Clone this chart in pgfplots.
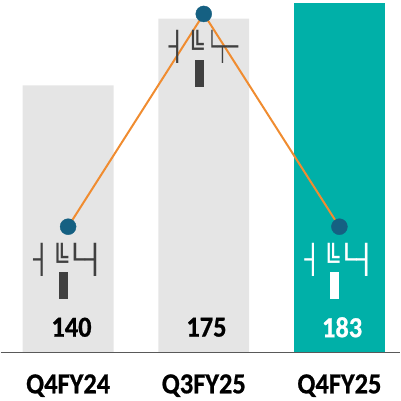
\documentclass[border=0pt]{standalone}
\usepackage{fontspec}
\usepackage{graphicx}
\usepackage{pgfplots}
\pgfplotsset{compat=1.18}
\setmainfont{Carlito}
\newfontfamily\boxfont{DejaVu Sans Mono}
\newfontfamily\labfont[FakeStretch=0.91,FakeBold=0.8]{Carlito Bold}
\definecolor{barGrey}{HTML}{E5E5E5}
\definecolor{barTeal}{HTML}{00B0A8}
\definecolor{lineOrange}{HTML}{F08C30}
\definecolor{dotBlue}{HTML}{156082}
\definecolor{inkDark}{HTML}{404040}
\definecolor{baseLine}{HTML}{595959}

% scrambled caption over each bar: x pos, y pos, colour, glyph string
\newcommand{\capt}[4]{%
  \node[anchor=west,inner sep=0,text=#3,font=\boxfont\fontsize{28}{28}\selectfont]
    at ([xshift=-35pt]axis cs:#1,#2) {#4};
  \node[anchor=north,inner sep=0,text=#3] at ([xshift=-4.5pt]axis cs:#1,#2-6.4) {\rule{9pt}{27pt}};
}
\newcommand{\lab}[4]{\node[font=\labfont\fontsize{29}{29}\selectfont,text=#3] at (axis cs:#1,#2) {#4};}

\begin{document}
\begin{tikzpicture}
\begin{axis}[
  scale only axis, width=400pt, height=401pt,
  xmin=-0.497, xmax=2.449, ymin=-25.13, ymax=184.8,
  axis lines=none, clip=false,
  ybar, bar width=91pt, bar shift=0pt,
]
\path (rel axis cs:0,0) rectangle (rel axis cs:1,1);
\addplot[fill=barGrey,draw=none] coordinates {(0,140) (1,175)};
\addplot[fill=barTeal,draw=none] coordinates {(2,183)};
\addplot[sharp plot,color=baseLine,line width=1.4pt,mark=none] coordinates {(-0.497,0) (2.449,0)};
\addplot[sharp plot,color=lineOrange,line width=2pt,mark=none] coordinates {(0,66) (1,177.5) (2,66)};
\addplot[only marks,mark=*,mark size=8pt,color=dotBlue] coordinates {(0,66) (1,177.5) (2,66)};

\capt{0}{48.7}{inkDark}{┤\kern1.1pt╚\kern-2.9pt\scalebox{1.18}[1]{└┤}}
\capt{1}{160}{inkDark}{┤\kern1.1pt╚\kern3.1pt\scalebox{.62}[1]{└┬─}}
\capt{2}{48.7}{white}{┤\kern1.1pt╚\kern-2.9pt\scalebox{1.18}[1]{└┤}}

\lab{0.025}{13.3}{black}{140}
\lab{1.02}{13.3}{black}{175}
\lab{2.02}{13.3}{white}{183}
\lab{0}{-17.3}{black}{Q4FY24}
\lab{1}{-17.3}{black}{Q3FY25}
\lab{2}{-17.3}{black}{Q4FY25}
\end{axis}
\end{tikzpicture}
\end{document}
